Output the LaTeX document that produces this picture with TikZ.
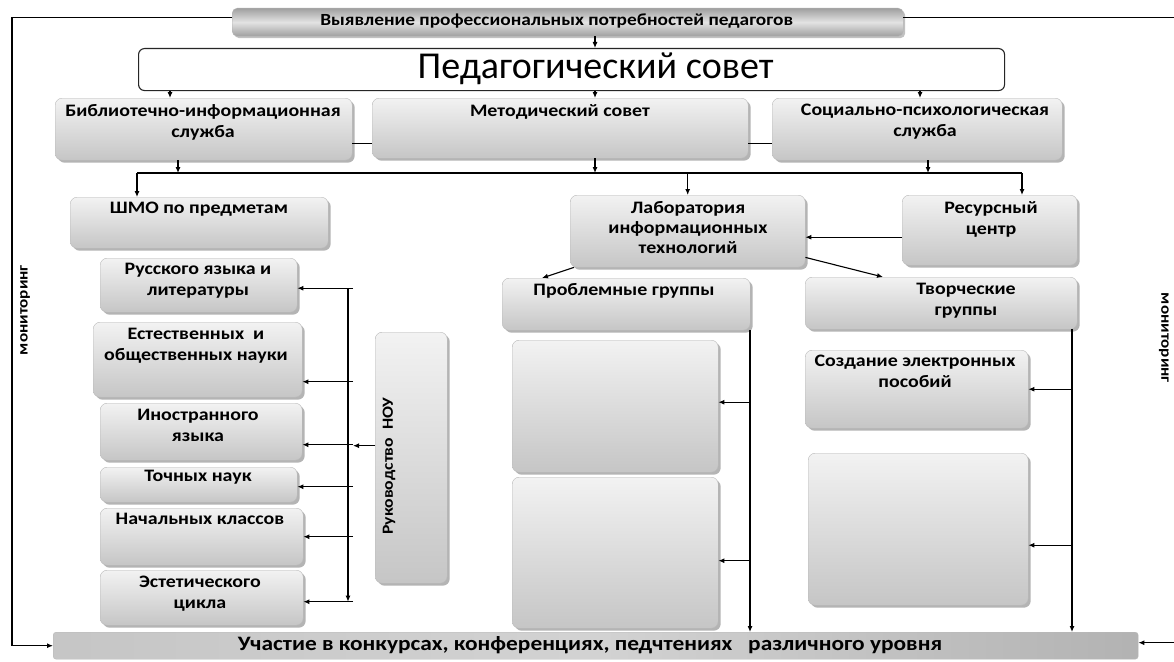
\documentclass[tikz,border=0pt]{standalone}
\usepackage{fontspec}
\setmainfont{Carlito}
\newfontfamily\wbf{Carlito}[FakeStretch=1.14]
\usetikzlibrary{arrows.meta,shadows,calc}

\tikzset{
  gbox/.style={rounded corners=7pt, top color=gray!10, bottom color=gray!45, draw=gray!55, line width=0.4pt,
    drop shadow={shadow xshift=2.5pt, shadow yshift=-2.5pt, fill=gray!65, opacity=0.9}, inner sep=0pt},
  topbar/.style={rounded corners=5pt, top color=gray!75, bottom color=gray!75, middle color=gray!22, draw=gray!60,
    drop shadow={shadow xshift=2pt, shadow yshift=-2pt, fill=gray!60, opacity=0.8}, inner sep=0pt},
  botbar/.style={rounded corners=3pt, left color=gray!45, right color=gray!60, middle color=gray!35, draw=gray!55, inner sep=0pt},
  wbox/.style={rounded corners=6pt, fill=white, draw=black!85, line width=1.1pt, inner sep=0pt},
  lbl/.style={font=\wbf\bfseries\fontsize{17.5}{21}\selectfont, align=center, inner sep=0pt, anchor=north},
  conn/.style={line width=1.1pt, black},
  arr/.style={conn, -{Latex[length=6pt,width=5pt]}},
}
\newcommand\mkbox[6]{%
  \node[#1, anchor=north west, minimum width={(#5-#3)*1pt}, minimum height={(#6-#4)*1pt}] (#2) at (#3,#4) {};}

\begin{document}
\begin{tikzpicture}[x=1pt,y=-1pt]
\useasboundingbox[fill=white] (0,0) rectangle (1174,661);

% helper coordinates
\coordinate (ml) at (12,300);
\coordinate (redge) at (1180,0);
\coordinate (xA) at (595,0);
\coordinate (xB) at (170,0);
\coordinate (xC) at (920,0);
\coordinate (xD) at (178,0);
\coordinate (xE) at (928,0);
\coordinate (xF) at (137,0);
\coordinate (xG) at (1022,0);
\coordinate (hl) at (0,173);
\coordinate (pv) at (750,0);
\coordinate (tv) at (1072,0);
\coordinate (lv) at (348,0);
\coordinate (lh) at (353,0);

% boxes
\mkbox{topbar}{top}{232}{8}{903}{36}
\mkbox{wbox}{ps}{138}{48}{1004}{90}
\mkbox{gbox}{bib}{55}{98}{352}{160}
\mkbox{gbox}{met}{372}{98}{748}{158}
\mkbox{gbox}{soc}{772}{98}{1062}{160}
\mkbox{gbox}{shmo}{70}{197}{328}{248}
\mkbox{gbox}{lab}{570}{195}{805}{267}
\mkbox{gbox}{res}{902}{195}{1077}{265}
\mkbox{gbox}{prob}{502}{278}{750}{330}
\mkbox{gbox}{tvor}{805}{277}{1077}{329}
\mkbox{gbox}{pb1}{512}{340}{718}{472}
\mkbox{gbox}{pb2}{512}{477}{718}{628}
\mkbox{gbox}{sozd}{805}{350}{1028}{428}
\mkbox{gbox}{tb2}{808}{453}{1028}{605}
\mkbox{gbox}{rus}{100}{258}{297}{312}
\mkbox{gbox}{est}{93}{322}{302}{397}
\mkbox{gbox}{ino}{100}{403}{302}{460}
\mkbox{gbox}{toch}{100}{467}{297}{502}
\mkbox{gbox}{nach}{100}{508}{303}{565}
\mkbox{gbox}{estet}{100}{570}{303}{625}
\mkbox{gbox}{nou}{375}{332}{447}{583}
\mkbox{botbar}{bot}{53}{632}{1138}{659}

% texts
\node[lbl, font=\wbf\bfseries\fontsize{17}{18}\selectfont, anchor=center] (topt) at ([xshift=-11pt,yshift=1pt]top.center) {Выявление профессиональных потребностей педагогов};
\node[inner sep=0pt, font=\fontsize{38}{40}\selectfont] (pst) at ([xshift=24pt,yshift=1pt]ps.center) {Педагогический совет};
\node[lbl] (bibt) at (203,104) {Библиотечно-информационная\\служба};
\node[lbl] (mett) at (560,104) {Методический совет};
\node[lbl] (soct) at (925,104) {Социально-психологическая\\служба};
\node[lbl] (shmot) at (199,202) {ШМО по предметам};
\node[lbl] (rust) at (198,263) {Русского языка и\\литературы};
\node[lbl] (estt) at (196,328) {Естественных \ и\\общественных науки};
\node[lbl] (inot) at (198,409) {Иностранного\\языка};
\node[lbl] (tocht) at (198,470) {Точных наук};
\node[lbl] (nacht) at (200,513) {Начальных классов};
\node[lbl] (estett) at (200,576) {Эстетического\\цикла};
\node[lbl, font=\wbf\bfseries\fontsize{17.5}{20}\selectfont] (labt) at (688,201) {Лаборатория\\информационных\\технологий};
\node[lbl] (rest) at (991,201) {Ресурсный\\центр};
\node[lbl] (probt) at (624,283) {Проблемные группы};
\node[lbl] (tvort) at (966,283) {Творческие\\группы};
\node[lbl] (sozdt) at (915,355) {Создание электронных\\пособий};
\node[lbl, font=\wbf\bfseries\fontsize{15.5}{17}\selectfont, anchor=center, rotate=90] (nout) at (389,466) {Руководство \ НОУ};
\node[lbl, font=\wbf\bfseries\fontsize{20.5}{22}\selectfont, anchor=center] (bott) at (590,645.5) {Участие в конкурсах, конференциях, педчтениях \ \ различного уровня};
\node[lbl, font=\wbf\bfseries\fontsize{15}{16}\selectfont, anchor=center, rotate=90] (monl) at (25,310) {мониторинг};
\node[lbl, font=\wbf\bfseries\fontsize{15}{16}\selectfont, anchor=center, rotate=-90] (monr) at (1164,338) {мониторинг};

% monitoring loops
\draw[arr] ([yshift=5pt]top.west) -| (ml) |- (bot.west);
\draw[conn] ([yshift=5pt]top.east) -- ([yshift=5pt]top.east -| redge);
\draw[arr] ([yshift=3pt]bot.east -| redge) -- ([yshift=3pt]bot.east);

% top level
\draw[arr] (top.south -| xA) -- (ps.north -| xA);
\draw[arr] (ps.south -| xB) -- (bib.north -| xB);
\draw[arr] (ps.south -| xA) -- (met.north -| xA);
\draw[arr] (ps.south -| xC) -- (soc.north -| xC);
\draw[conn] ([yshift=-14pt]bib.east) -- ([yshift=-14pt]bib.east -| met.west);
\draw[conn] ([yshift=-15pt]met.east) -- ([yshift=-15pt]met.east -| soc.west);

% distribution line
\draw[arr] (bib.south -| xD) -- (xD |- hl);
\draw[arr] (met.south -| xA) -- (xA |- hl);
\draw[arr] (soc.south -| xE) -- (xE |- hl);
\draw[conn] (xF |- hl) -- (xG |- hl);
\draw[arr] (xF |- hl) -- (shmo.north -| xF);
\draw[arr] (lab.north |- hl) -- (lab.north);
\draw[arr] (xG |- hl) -- (res.north -| xG);

% laboratory
\draw[arr] ([yshift=-7pt]res.west) -- ([yshift=-7pt]res.west -| lab.east);
\draw[arr] ([xshift=4pt]lab.south west) -- ([xshift=40pt]prob.north west);
\draw[arr] ([yshift=10pt]lab.south east) -- ([xshift=78pt]tvor.north west);

% problem groups
\draw[arr] (prob.south -| pv) -- (bot.north -| pv);
\draw[arr] ([yshift=4pt]pb1.east -| pv) -- ([yshift=4pt]pb1.east);
\draw[arr] ([yshift=-8pt]pb2.east -| pv) -- ([yshift=-8pt]pb2.east);

% creative groups
\draw[arr] (tvor.south -| tv) -- (bot.north -| tv);
\draw[arr] (sozd.east -| tv) -- (sozd.east);
\draw[arr] ([yshift=-16pt]tb2.east -| tv) -- ([yshift=-16pt]tb2.east);

% SHMO column
\draw[arr] ([yshift=-3pt]rus.east -| lv) -- ([yshift=-4pt]estet.east -| lv);
\draw[arr] ([yshift=-3pt]rus.east -| lh) -- ([yshift=-3pt]rus.east);
\draw[arr] ([yshift=-22pt]est.east -| lh) -- ([yshift=-22pt]est.east);
\draw[arr] ([yshift=-13pt]ino.east -| lh) -- ([yshift=-13pt]ino.east);
\draw[arr] ([yshift=-2pt]toch.east -| lh) -- ([yshift=-2pt]toch.east);
\draw[arr] (nach.east -| lh) -- (nach.east);
\draw[arr] ([yshift=-4pt]estet.east -| lh) -- ([yshift=-4pt]estet.east);
\draw[arr] ([yshift=12pt]nou.west) -- ([yshift=12pt]nou.west -| lh);
\end{tikzpicture}
\end{document}
